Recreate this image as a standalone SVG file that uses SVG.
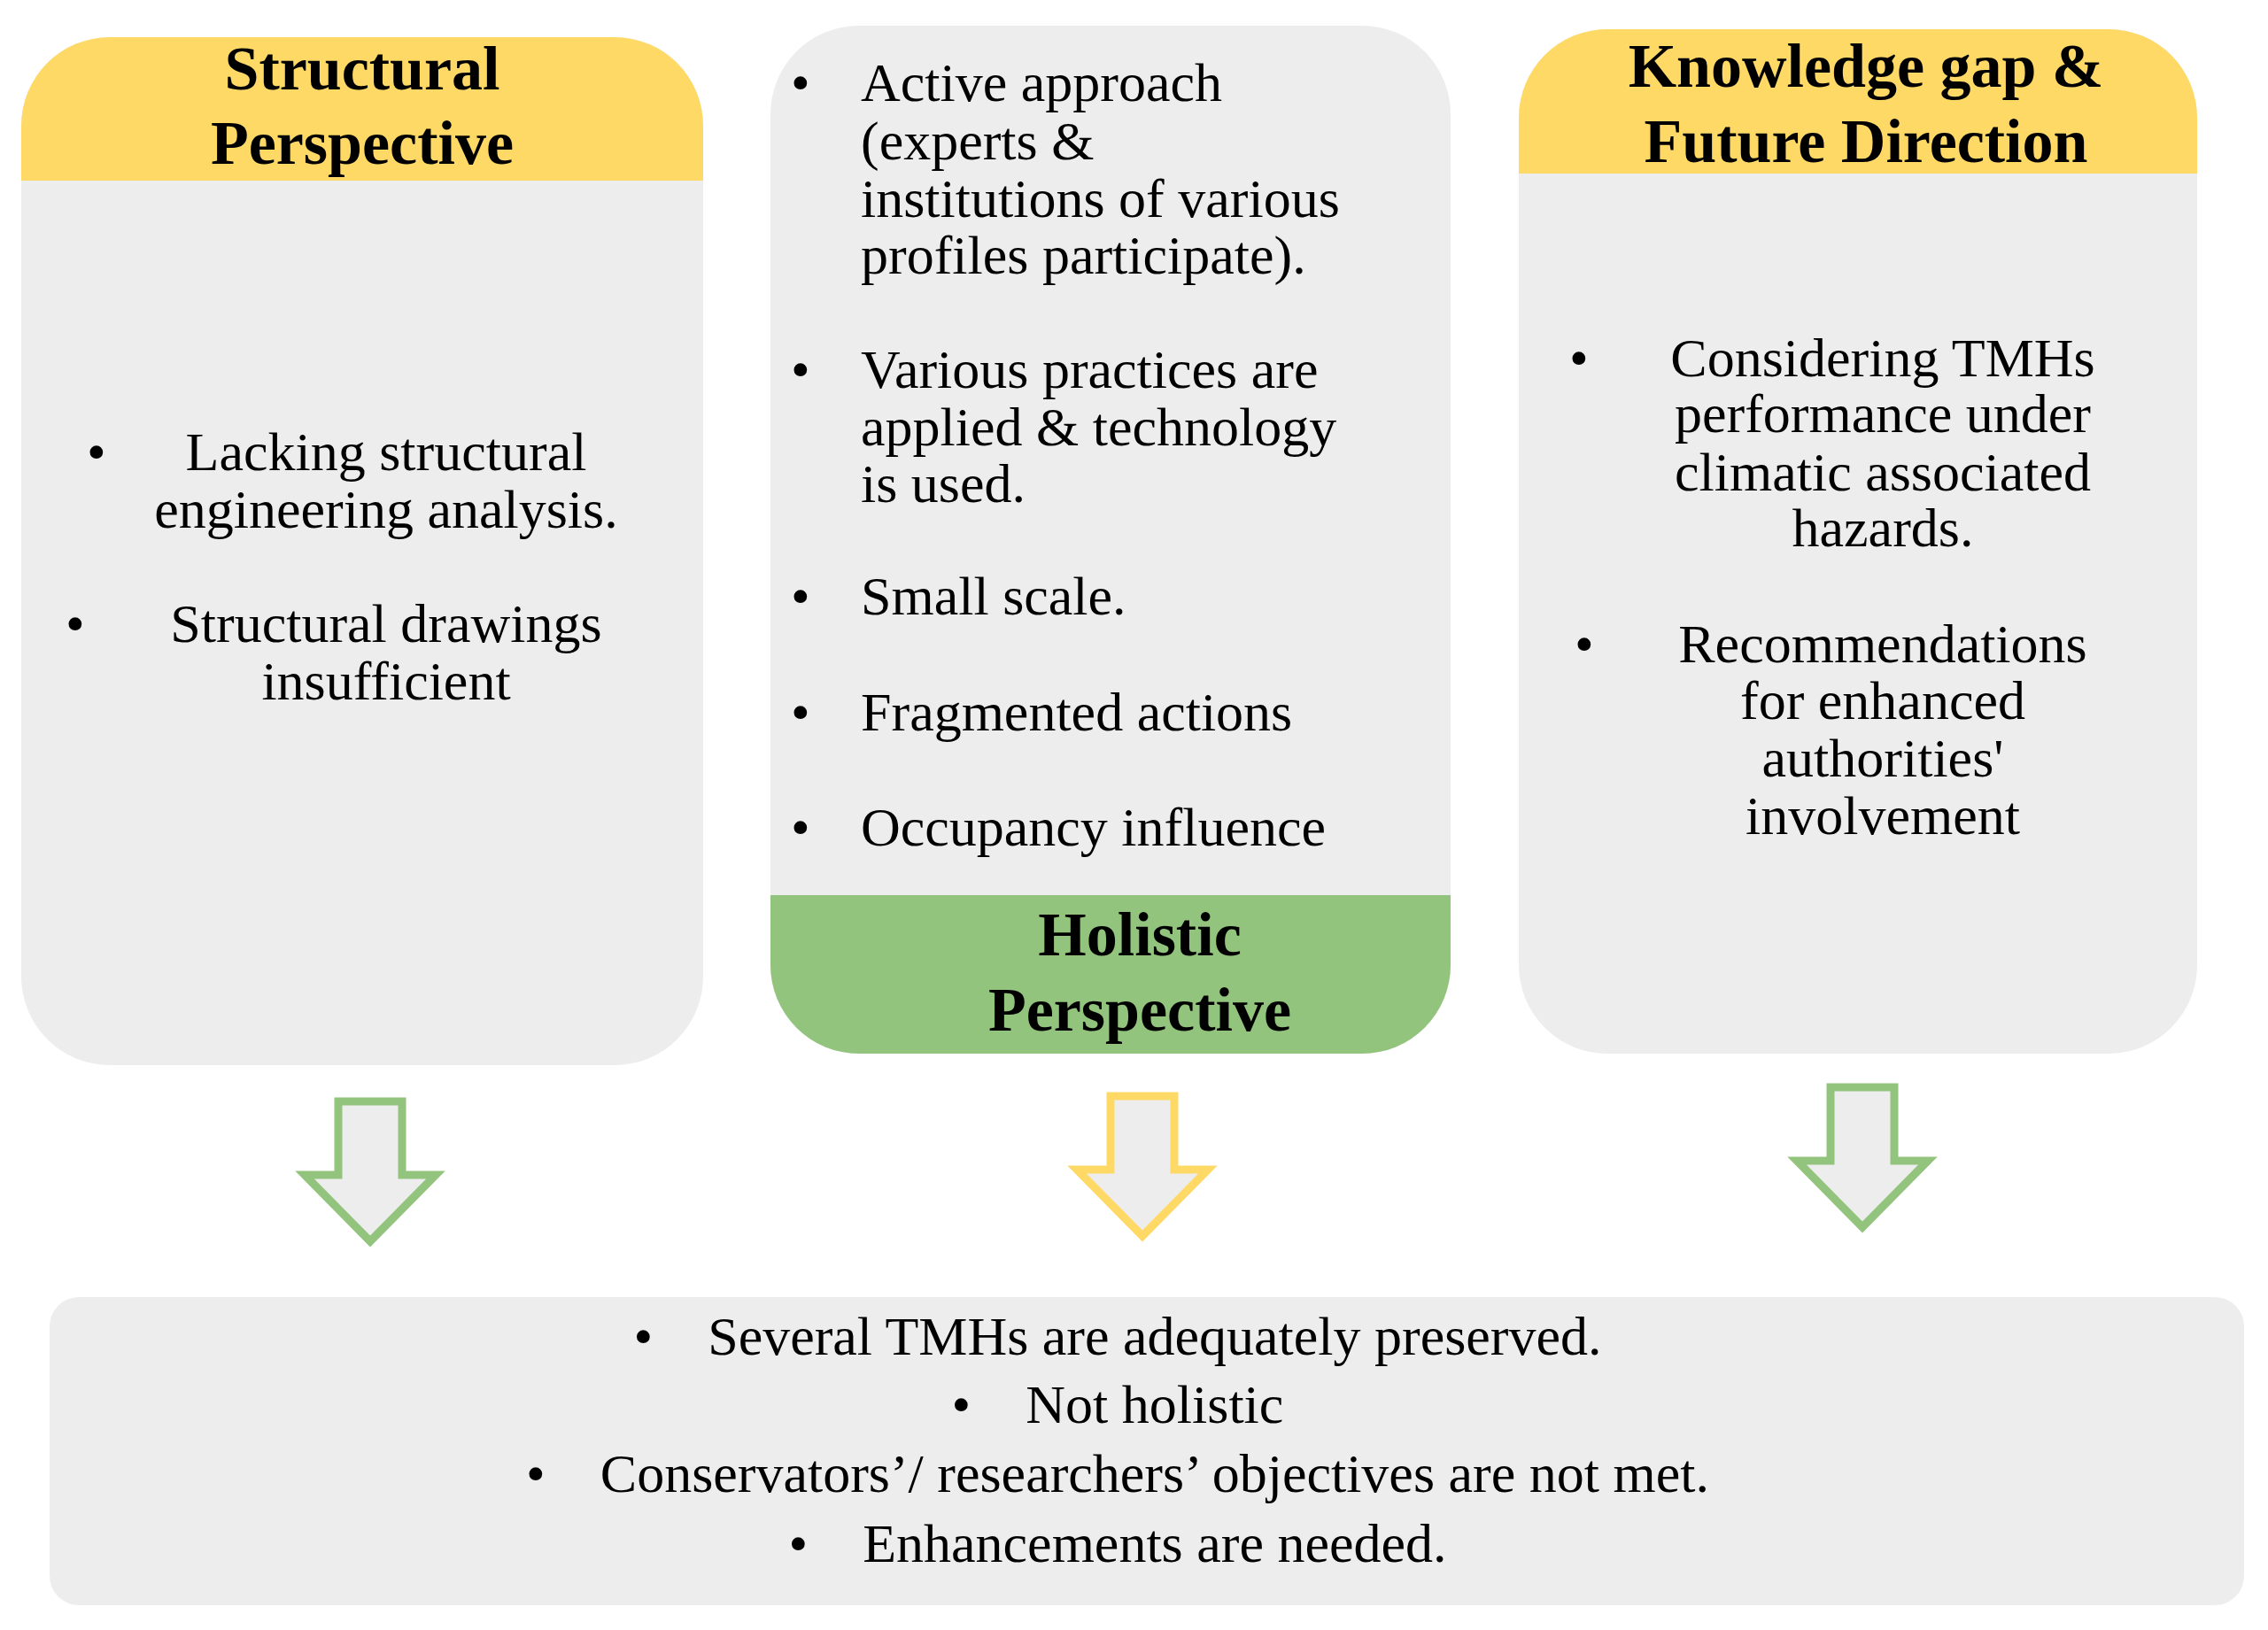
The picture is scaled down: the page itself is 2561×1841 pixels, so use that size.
<svg xmlns="http://www.w3.org/2000/svg" width="2561" height="1841" viewBox="0 0 2561 1841">
<style>
.t{font-family:"Liberation Serif","Times New Roman",serif;font-size:62px;fill:#000}
.h{font-family:"Liberation Serif","Times New Roman",serif;font-size:70px;font-weight:bold;fill:#000;text-anchor:middle}
.c{text-anchor:middle}
.box{fill:#EDEDED}
.arr{fill:#EDEDED;stroke-width:9;stroke-linejoin:miter}
</style>
<defs>
<clipPath id="c1"><rect x="24" y="42" width="770" height="1161" rx="100"/></clipPath>
<clipPath id="c2"><rect x="870" y="29" width="768" height="1161" rx="100"/></clipPath>
<clipPath id="c3"><rect x="1715" y="33" width="766" height="1157" rx="100"/></clipPath>
</defs>
<rect width="2561" height="1841" fill="#fff"/>
<g id="structural">
<g clip-path="url(#c1)"><rect class="box" x="24" y="42" width="770" height="1161"/><rect x="24" y="42" width="770" height="162" fill="#FFD966"/></g>
<text class="h" x="409" y="101">Structural</text>
<text class="h" x="409" y="185">Perspective</text>
<text class="t" x="98" y="531">•</text><text class="t c" x="436" y="531">Lacking structural</text>
<text class="t c" x="436" y="596">engineering analysis.</text>
<text class="t" x="74" y="725">•</text><text class="t c" x="436" y="725">Structural drawings</text>
<text class="t c" x="436" y="790">insufficient</text>
</g>
<g id="holistic">
<g clip-path="url(#c2)"><rect class="box" x="870" y="29" width="768" height="1161"/><rect x="870" y="1011" width="768" height="179" fill="#93C47D"/></g>
<text class="t" x="893" y="114">•</text>
<text class="t" x="972" y="114">Active approach</text>
<text class="t" x="972" y="180">(experts &amp;</text>
<text class="t" x="972" y="245">institutions of various</text>
<text class="t" x="972" y="309">profiles participate).</text>
<text class="t" x="893" y="438">•</text>
<text class="t" x="972" y="438">Various practices are</text>
<text class="t" x="972" y="503">applied &amp; technology</text>
<text class="t" x="972" y="567">is used.</text>
<text class="t" x="893" y="694">•</text><text class="t" x="972" y="694">Small scale.</text>
<text class="t" x="893" y="825">•</text><text class="t" x="972" y="825">Fragmented actions</text>
<text class="t" x="893" y="955">•</text><text class="t" x="972" y="955">Occupancy influence</text>
<text class="h" x="1287" y="1079">Holistic</text>
<text class="h" x="1287" y="1164">Perspective</text>
</g>
<g id="knowledge">
<g clip-path="url(#c3)"><rect class="box" x="1715" y="33" width="766" height="1157"/><rect x="1715" y="33" width="766" height="163" fill="#FFD966"/></g>
<text class="h" x="2107" y="98">Knowledge gap &amp;</text>
<text class="h" x="2107" y="183">Future Direction</text>
<text class="t" x="1772" y="425">•</text>
<text class="t c" x="2126" y="425">Considering TMHs</text>
<text class="t c" x="2126" y="488">performance under</text>
<text class="t c" x="2126" y="554">climatic associated</text>
<text class="t c" x="2126" y="617">hazards.</text>
<text class="t" x="1778" y="748">•</text>
<text class="t c" x="2126" y="748">Recommendations</text>
<text class="t c" x="2126" y="812">for enhanced</text>
<text class="t c" x="2126" y="877">authorities'</text>
<text class="t c" x="2126" y="942">involvement</text>
</g>
<g id="connectors">
<path class="arr" stroke="#93C47D" d="M382,1244 H454 V1327 H492 L418,1402 L344,1327 H382 Z"/>
<path class="arr" stroke="#FFD966" d="M1254,1238 H1326 V1321 H1364 L1290,1396 L1216,1321 H1254 Z"/>
<path class="arr" stroke="#93C47D" d="M2067,1228 H2139 V1311 H2177 L2103,1386 L2029,1311 H2067 Z"/>
</g>
<g id="summary">
<rect class="box" x="56" y="1465" width="2478" height="348" rx="33"/>
<text class="t c" x="1262" y="1530" xml:space="preserve">•    Several TMHs are adequately preserved.</text>
<text class="t c" x="1262" y="1607" xml:space="preserve">•    Not holistic</text>
<text class="t c" x="1262" y="1685" xml:space="preserve">•    Conservators’/ researchers’ objectives are not met.</text>
<text class="t c" x="1262" y="1764" xml:space="preserve">•    Enhancements are needed.</text>
</g>
</svg>
